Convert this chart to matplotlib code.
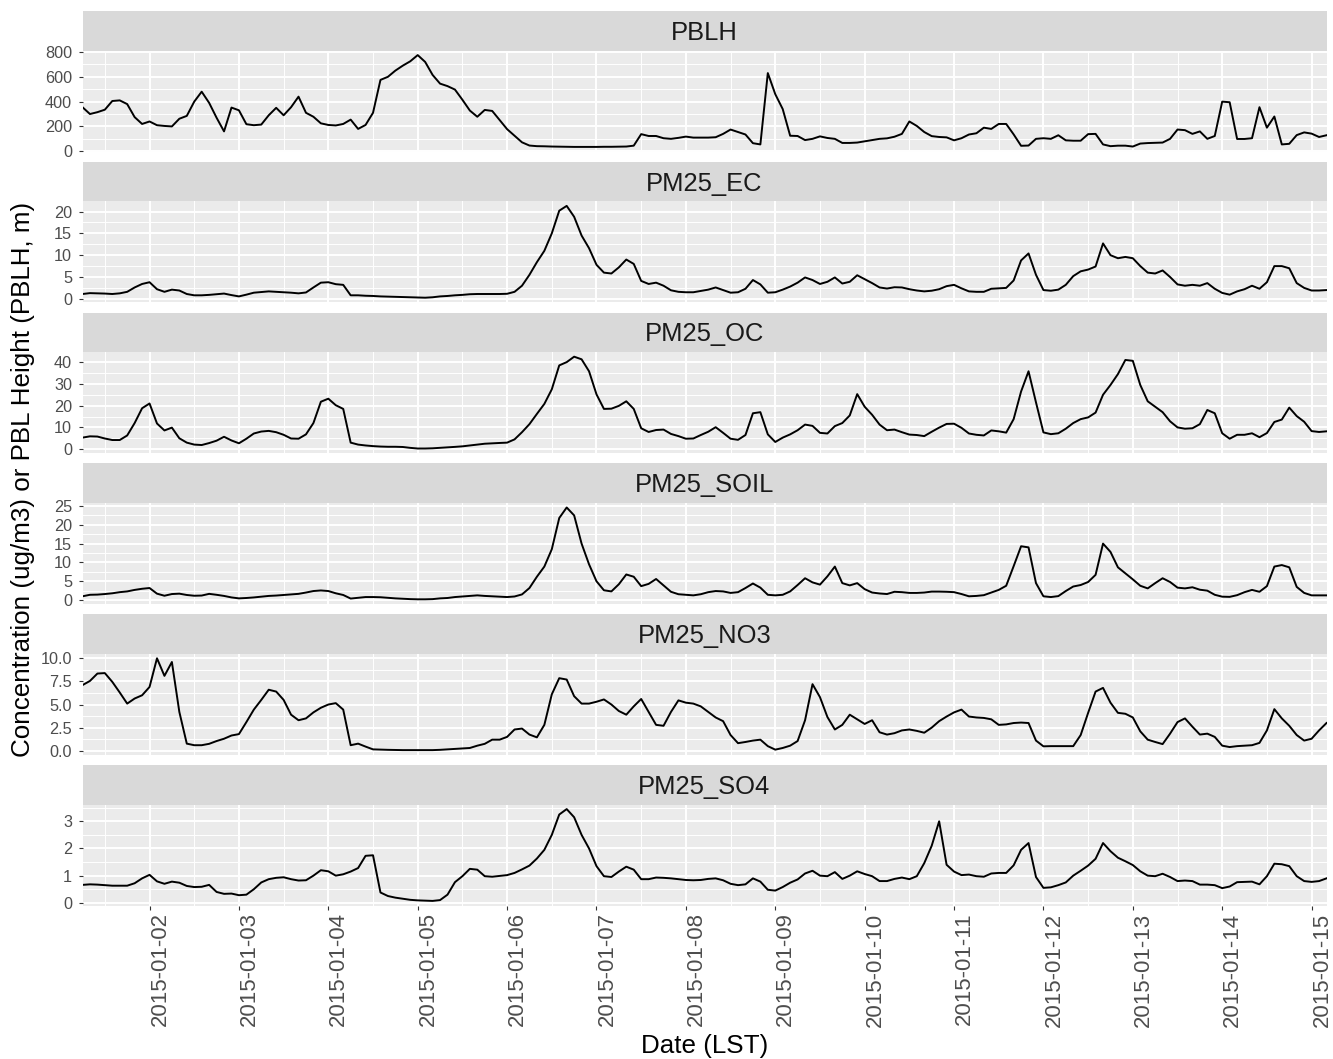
import pandas as pd
import matplotlib
matplotlib.use('Agg')
import matplotlib.pyplot as plt
import matplotlib.dates as mdates
from matplotlib.ticker import MultipleLocator, FormatStrFormatter

plt.rcParams['font.family'] = ['Liberation Sans', 'DejaVu Sans']

# 2-hourly values, Jan 1 06:00 -> Jan 15 04:00 (LST)
times = pd.date_range('2015-01-01 06:00', periods=168, freq='2h')

pblh = [355, 300, 315, 335, 405, 410, 380, 275, 220, 240,
        210, 204, 200, 262, 285, 400, 480, 390, 270, 160,
        352, 330, 218, 210, 215, 290, 350, 290, 355, 440,
        310, 278, 225, 212, 208, 220, 255, 180, 212, 310,
        575, 600, 650, 690, 725, 775, 720, 615, 545, 525,
        497, 415, 328, 278, 333, 325, 252, 178, 125, 72,
        46, 41, 40, 38, 37, 36, 35, 35, 35, 35,
        36, 36, 37, 38, 45, 138, 123, 123, 105, 100,
        108, 118, 110, 110, 110, 113, 140, 175, 155, 135,
        65, 55, 630, 460, 340, 125, 123, 90, 100, 120,
        107, 100, 67, 67, 70, 80, 90, 100, 104, 117,
        140, 240, 204, 155, 122, 115, 112, 88, 105, 135,
        145, 190, 180, 220, 220, 136, 44, 46, 100, 105,
        100, 129, 88, 85, 85, 138, 140, 55, 41, 45,
        45, 38, 62, 66, 68, 70, 100, 175, 170, 140,
        160, 100, 123, 400, 395, 99, 99, 105, 355, 190,
        280, 55, 60, 130, 152, 142, 115, 129]

pm25_ec = [1.1, 1.3, 1.25, 1.2, 1.1, 1.25, 1.6, 2.6, 3.4, 3.8,
           2.2, 1.6, 2.1, 1.9, 1.1, 0.8, 0.8, 0.9, 1.05, 1.2,
           0.85, 0.55, 0.95, 1.4, 1.55, 1.7, 1.6, 1.5, 1.4, 1.25,
           1.45, 2.6, 3.7, 3.8, 3.35, 3.2, 0.8, 0.8, 0.7, 0.65,
           0.55, 0.5, 0.45, 0.4, 0.35, 0.3, 0.25, 0.35, 0.55, 0.65,
           0.8, 0.9, 1.05, 1.1, 1.1, 1.1, 1.1, 1.15, 1.6, 3.0,
           5.5, 8.4, 11.0, 15.0, 20.2, 21.3, 18.8, 14.5, 11.6, 7.8,
           6.0, 5.8, 7.2, 9.0, 8.0, 4.1, 3.4, 3.7, 3.0, 1.95,
           1.6, 1.5, 1.5, 1.8, 2.1, 2.6, 2.0, 1.4, 1.5, 2.3,
           4.3, 3.3, 1.4, 1.5, 2.1, 2.8, 3.7, 4.9, 4.3, 3.4,
           3.9, 4.9, 3.5, 3.9, 5.4, 4.5, 3.6, 2.6, 2.35, 2.65,
           2.6, 2.2, 1.9, 1.7, 1.85, 2.2, 2.9, 3.2, 2.4, 1.7,
           1.6, 1.6, 2.3, 2.4, 2.5, 4.2, 8.8, 10.4, 5.5, 2.0,
           1.85, 2.1, 3.2, 5.2, 6.3, 6.7, 7.4, 12.7, 10.0, 9.3,
           9.6, 9.3, 7.5, 6.0, 5.8, 6.5, 5.0, 3.3, 3.0, 3.2,
           3.0, 3.6, 2.3, 1.35, 0.95, 1.7, 2.2, 3.0, 2.3, 3.8,
           7.5, 7.5, 7.0, 3.6, 2.5, 1.9, 1.9, 2.0]

pm25_oc = [5.3, 5.9, 5.8, 4.9, 4.2, 4.2, 6.3, 12.0, 18.8, 21.0,
           11.8, 8.6, 9.9, 5.0, 3.0, 2.1, 1.9, 2.8, 3.9, 5.7,
           4.0, 2.7, 4.8, 7.2, 8.1, 8.4, 7.8, 6.6, 4.9, 4.8,
           6.8, 12.0, 21.8, 23.2, 20.2, 18.5, 3.0, 2.1, 1.7, 1.4,
           1.2, 1.1, 1.1, 1.0, 0.6, 0.3, 0.3, 0.4, 0.6, 0.75,
           1.05, 1.3, 1.7, 2.1, 2.5, 2.7, 2.85, 3.0, 4.5, 7.8,
           11.5, 16.2, 20.8, 27.5, 38.5, 40.0, 42.5, 41.3, 35.8, 25.2,
           18.5, 18.6, 19.9, 22.0, 18.5, 9.6, 7.9, 8.8, 9.0, 7.0,
           6.0, 4.8, 4.9, 6.5, 8.0, 10.1, 7.5, 4.8, 4.3, 6.5,
           16.5, 17.0, 6.8, 3.3, 5.3, 6.8, 8.7, 11.3, 10.7, 7.5,
           7.2, 10.6, 12.0, 15.5, 25.3, 19.5, 15.8, 11.3, 8.7, 9.0,
           7.8, 6.7, 6.5, 6.0, 8.0, 9.9, 11.6, 11.7, 9.8, 7.2,
           6.6, 6.3, 8.6, 8.2, 7.6, 13.8, 26.5, 35.8, 21.5, 7.7,
           6.9, 7.3, 9.4, 12.0, 13.8, 14.6, 16.8, 25.0, 29.5, 34.5,
           41.0, 40.6, 29.5, 22.0, 19.5, 17.0, 12.8, 10.0, 9.4, 9.6,
           11.5, 18.0, 16.5, 7.3, 4.8, 6.6, 6.6, 7.3, 5.5, 7.4,
           12.5, 13.6, 19.1, 15.2, 12.6, 8.3, 7.9, 8.2]

pm25_soil = [1.0, 1.4, 1.45, 1.6, 1.8, 2.1, 2.3, 2.7, 3.0, 3.2,
             1.7, 1.15, 1.6, 1.7, 1.35, 1.15, 1.2, 1.65, 1.4, 1.1,
             0.7, 0.45, 0.55, 0.7, 0.9, 1.1, 1.2, 1.35, 1.5, 1.65,
             2.0, 2.4, 2.55, 2.4, 1.8, 1.35, 0.4, 0.6, 0.8, 0.8,
             0.75, 0.6, 0.45, 0.35, 0.25, 0.2, 0.2, 0.25, 0.45, 0.55,
             0.8, 0.95, 1.1, 1.25, 1.1, 1.0, 0.9, 0.8, 0.95, 1.5,
             3.2, 6.2, 8.9, 13.5, 21.8, 24.6, 22.5, 15.0, 9.5, 5.0,
             2.6, 2.3, 4.2, 6.8, 6.2, 3.7, 4.3, 5.6, 3.9, 2.2,
             1.55, 1.4, 1.25, 1.55, 2.1, 2.4, 2.3, 1.9, 2.1, 3.2,
             4.4, 3.3, 1.4, 1.25, 1.4, 2.3, 4.0, 5.8, 4.7, 4.1,
             6.3, 8.9, 4.5, 3.9, 4.5, 2.9, 2.0, 1.75, 1.6, 2.2,
             2.1, 1.9, 1.9, 2.0, 2.25, 2.25, 2.2, 2.1, 1.6, 1.0,
             1.1, 1.3, 2.0, 2.7, 3.8, 9.0, 14.3, 14.0, 4.5, 1.0,
             0.8, 1.05, 2.4, 3.6, 4.0, 4.8, 6.7, 15.0, 12.8, 8.7,
             7.1, 5.5, 3.8, 3.1, 4.5, 5.8, 4.8, 3.3, 3.1, 3.4,
             2.75, 2.5, 1.4, 0.9, 0.85, 1.3, 2.1, 2.7, 2.2, 3.7,
             8.9, 9.3, 8.7, 3.5, 1.9, 1.25, 1.25, 1.25]

pm25_no3 = [7.1, 7.55, 8.35, 8.4, 7.45, 6.3, 5.1, 5.65, 6.0, 6.9,
            10.0, 8.1, 9.6, 4.2, 0.77, 0.6, 0.6, 0.75, 1.05, 1.3,
            1.65, 1.8, 3.1, 4.45, 5.5, 6.6, 6.4, 5.5, 3.9, 3.3,
            3.5, 4.15, 4.65, 5.0, 5.15, 4.45, 0.6, 0.77, 0.45, 0.15,
            0.12, 0.1, 0.08, 0.07, 0.07, 0.07, 0.07, 0.07, 0.1, 0.15,
            0.2, 0.25, 0.3, 0.55, 0.75, 1.2, 1.2, 1.5, 2.3, 2.4,
            1.75, 1.45, 2.8, 6.1, 7.85, 7.7, 5.9, 5.1, 5.1, 5.3,
            5.55, 5.0, 4.3, 3.9, 4.8, 5.6, 4.2, 2.8, 2.7, 4.2,
            5.45, 5.2, 5.1, 4.8, 4.2, 3.6, 3.2, 1.7, 0.82, 0.95,
            1.1, 1.2, 0.5, 0.12, 0.3, 0.55, 1.05, 3.3, 7.2, 5.8,
            3.65, 2.3, 2.8, 3.9, 3.4, 2.9, 3.3, 2.0, 1.75, 1.9,
            2.2, 2.3, 2.15, 1.95, 2.5, 3.2, 3.7, 4.15, 4.45, 3.7,
            3.6, 3.55, 3.4, 2.8, 2.85, 3.0, 3.05, 3.0, 1.1, 0.48,
            0.5, 0.5, 0.5, 0.5, 1.7, 4.1, 6.4, 6.8, 5.2, 4.1,
            4.0, 3.6, 2.1, 1.2, 0.95, 0.72, 1.85, 3.1, 3.5, 2.6,
            1.75, 1.85, 1.5, 0.55, 0.4, 0.5, 0.55, 0.6, 0.85, 2.2,
            4.5, 3.5, 2.7, 1.7, 1.1, 1.3, 2.2, 3.0]

pm25_so4 = [0.66, 0.68, 0.67, 0.65, 0.63, 0.63, 0.63, 0.72, 0.9, 1.03,
            0.79, 0.7, 0.78, 0.74, 0.62, 0.58, 0.59, 0.66, 0.4, 0.33,
            0.34, 0.28, 0.3, 0.5, 0.75, 0.87, 0.92, 0.94, 0.87, 0.82,
            0.83, 1.0, 1.2, 1.16, 1.0, 1.05, 1.15, 1.28, 1.73, 1.75,
            0.38, 0.25, 0.19, 0.15, 0.11, 0.09, 0.08, 0.07, 0.1, 0.3,
            0.76, 0.98, 1.25, 1.22, 0.98, 0.96, 0.99, 1.02, 1.1, 1.23,
            1.37, 1.63, 1.95, 2.5, 3.25, 3.45, 3.15, 2.5, 2.0, 1.35,
            0.98, 0.95, 1.15, 1.33, 1.22, 0.87, 0.87, 0.93, 0.92, 0.9,
            0.87, 0.84, 0.83, 0.84, 0.88, 0.9, 0.83, 0.7, 0.65, 0.68,
            0.9, 0.78, 0.48, 0.45, 0.58, 0.74, 0.86, 1.08, 1.18, 1.0,
            0.98, 1.13, 0.88, 1.0, 1.16, 1.06, 0.98, 0.8, 0.8, 0.88,
            0.93, 0.87, 0.98, 1.46, 2.1, 3.0, 1.4, 1.15, 1.02, 1.04,
            0.98, 0.96, 1.08, 1.1, 1.1, 1.38, 1.95, 2.2, 0.95, 0.55,
            0.57, 0.65, 0.75, 1.0, 1.18, 1.37, 1.62, 2.2, 1.9, 1.66,
            1.53, 1.39, 1.16, 1.0, 0.98, 1.07, 0.95, 0.8, 0.82, 0.8,
            0.67, 0.67, 0.65, 0.54, 0.6, 0.76, 0.77, 0.78, 0.68, 0.98,
            1.44, 1.42, 1.35, 0.98, 0.8, 0.77, 0.8, 0.9]

panel_names = ['PBLH', 'PM25_EC', 'PM25_OC', 'PM25_SOIL', 'PM25_NO3', 'PM25_SO4']
panel_values = [pblh, pm25_ec, pm25_oc, pm25_soil, pm25_no3, pm25_so4]
y_steps = [200, 5, 10, 5, 2.5, 1]
y_formats = ['%d', '%d', '%d', '%d', '%.1f', '%d']

W, H = 1333, 1059
fig = plt.figure(figsize=(W / 100, H / 100), dpi=100)

left = 82.5 / W
width = 1244 / W
strip_h = 39.5
panel_h = 101

for k in range(6):
    top = 11 + 150.8 * k

    # facet strip
    strip = fig.add_axes([left, 1 - (top + strip_h) / H, width, strip_h / H])
    strip.set_facecolor('#D9D9D9')
    strip.set_xticks([])
    strip.set_yticks([])
    for s in strip.spines.values():
        s.set_visible(False)
    strip.text(0.5, 0.27, panel_names[k], ha='center', va='baseline',
               fontsize=18.4, color='#1A1A1A', transform=strip.transAxes)

    ax = fig.add_axes([left, 1 - (top + strip_h + panel_h) / H, width, panel_h / H])
    ax.set_facecolor('#EBEBEB')
    for s in ax.spines.values():
        s.set_visible(False)
    ax.plot(times, panel_values[k], color='black', lw=1.4)
    ax.set_xlim(times[0], times[-1])
    ax.margins(y=0.05)

    ax.yaxis.set_major_locator(MultipleLocator(y_steps[k]))
    ax.yaxis.set_minor_locator(MultipleLocator(y_steps[k] / 2))
    ax.yaxis.set_major_formatter(FormatStrFormatter(y_formats[k]))
    ax.xaxis.set_major_locator(mdates.DayLocator())
    ax.xaxis.set_minor_locator(mdates.HourLocator(byhour=12))
    ax.xaxis.set_major_formatter(mdates.DateFormatter('%Y-%m-%d'))

    ax.set_axisbelow(True)
    ax.grid(which='major', color='white', lw=1.4)
    ax.grid(which='minor', color='white', lw=0.7)

    ax.tick_params(which='minor', length=0)
    ax.tick_params(axis='y', which='major', length=3, width=0.8, color='#333333',
                   labelsize=11.7, labelcolor='#4D4D4D', pad=4.5)
    if k < 5:
        ax.tick_params(axis='x', which='both', bottom=False, labelbottom=False)
    else:
        ax.tick_params(axis='x', which='major', length=3, width=0.8, color='#333333',
                       labelsize=16, labelcolor='#4D4D4D', pad=2)
        plt.setp(ax.get_xticklabels(), rotation=90, ha='left', va='top')

fig.text(23 / W, 1 - 479 / H, 'Concentration (ug/m3) or PBL Height (PBLH, m)',
         rotation=90, ha='center', va='center', fontsize=18.7)
fig.text(704.5 / W, 1 - 1046 / H, 'Date (LST)', ha='center', va='center', fontsize=18.7)

fig.savefig('out.png', dpi=100)
